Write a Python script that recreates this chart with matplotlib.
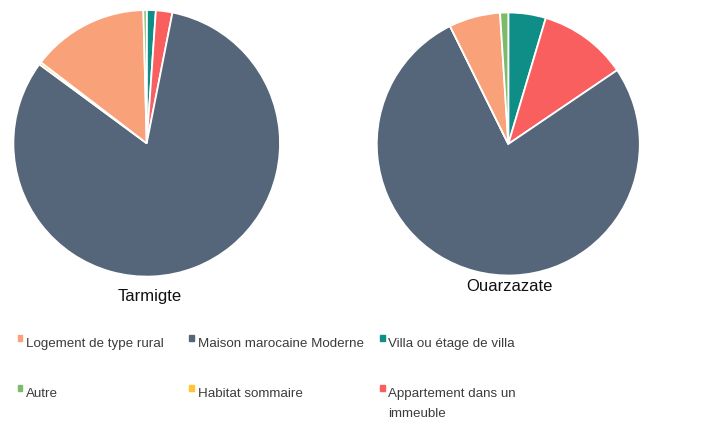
import matplotlib
matplotlib.use("Agg")
import matplotlib.pyplot as plt
from matplotlib.patches import Rectangle

# ---- data (legend order) ----
categories = ['Logement de type rural', 'Maison marocaine Moderne', 'Villa ou étage de villa',
              'Autre', 'Habitat sommaire', 'Appartement dans un\nimmeuble']
colors = ['#F9A27A', '#55657A', '#0F8E87', '#7DBA6A', '#FFC533', '#F95F5F']
tarmigte = [14.2, 82.0, 1.1, 0.4, 0.3, 2.0]
ouarzazate = [6.3, 77.1, 4.6, 1.0, 0.0, 10.9]
pie_titles = ['Tarmigte', 'Ouarzazate']

# clockwise drawing order starting at 12 o'clock
draw_order = [2, 5, 1, 4, 0, 3]

plt.rcParams['font.family'] = ['Liberation Sans', 'DejaVu Sans']

W, H = 704, 423
fig = plt.figure(figsize=(W / 100, H / 100), dpi=100)

def px_axes(cx, cy, r):
    return fig.add_axes([(cx - r) / W, 1 - (cy + r) / H, 2 * r / W, 2 * r / H])

pies = [(tarmigte, (146.7, 143.3, 133.3), (149.5, 300.5)),
        (ouarzazate, (508.3, 144.0, 131.5), (509.0, 290.5))]

for (vals, (cx, cy, r), (tx, ty)), title in zip(pies, pie_titles):
    ax = px_axes(cx, cy, r)
    v = [vals[i] for i in draw_order]
    c = [colors[i] for i in draw_order]
    ax.pie(v, colors=c, startangle=90, counterclock=False, radius=1,
           wedgeprops=dict(edgecolor='white', linewidth=1.3))
    ax.set_xlim(-1.0, 1.0)
    ax.set_ylim(-1.0, 1.0)
    ax.set_aspect('equal')
    ax.axis('off')
    fig.text(tx / W, 1 - ty / H, title, ha='center', va='baseline', fontsize=12.0, color='#111111')

# ---- legend ----
col_x = [17.5, 189.0, 380.0]
row_y = [347.0, 397.0]
line_gap = 19.7
for i, (cat, col) in enumerate(zip(categories, colors)):
    row, cl = divmod(i, 3)
    x = col_x[cl]
    y = row_y[row]
    fig.patches.append(Rectangle((x / W, 1 - (y - 6) / H), 4.5 / W, 6 / H,
                                 transform=fig.transFigure, color=col, figure=fig))
    for k, line in enumerate(cat.split('\n')):
        fig.text((x + 8.5) / W, 1 - (y + k * line_gap) / H, line, ha='left', va='baseline',
                 fontsize=9.6, color='#3c3c3c')

fig.savefig('out.png', dpi=100, facecolor='white')
